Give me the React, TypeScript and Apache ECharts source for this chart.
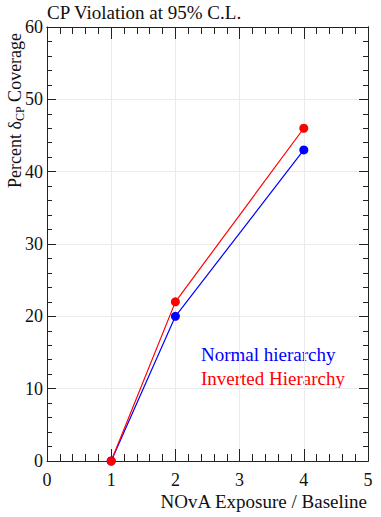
import React, { useEffect, useRef } from "react";
import * as echarts from "echarts";

const exposure = [1, 2, 4];
const normalCoverage = [0, 20, 43];
const invertedCoverage = [0, 22, 46];
const xTicks = [0, 1, 2, 3, 4, 5];
const yTicks = [0, 10, 20, 30, 40, 50, 60];

const FONT = "'Liberation Serif', 'DejaVu Serif', serif";
const GRID = { left: 47, right: 13, top: 27, bottom: 56 };
const AXIS_COLOR = "#222";

const makeX = (pos: "bottom" | "top", labels: boolean) => ({
  type: "value" as const,
  position: pos,
  min: xTicks[0],
  max: xTicks[xTicks.length - 1],
  interval: 1,
  axisLine: { show: true, onZero: false, lineStyle: { color: AXIS_COLOR, width: 1 } },
  axisTick: { show: true, inside: true, length: 12, lineStyle: { color: AXIS_COLOR, width: 1 } },
  minorTick: { show: true, splitNumber: 5, length: 7, lineStyle: { color: AXIS_COLOR, width: 1 } },
  axisLabel: { show: labels, color: "#111", fontFamily: FONT, fontSize: 18, margin: 10 },
  splitLine: { show: labels, lineStyle: { color: "#ebebeb", width: 1 } },
});
const makeY = (pos: "left" | "right", labels: boolean) => ({
  type: "value" as const,
  position: pos,
  min: yTicks[0],
  max: yTicks[yTicks.length - 1],
  interval: 10,
  axisLine: { show: true, onZero: false, lineStyle: { color: AXIS_COLOR, width: 1 } },
  axisTick: { show: true, inside: true, length: 9, lineStyle: { color: AXIS_COLOR, width: 1 } },
  minorTick: { show: true, splitNumber: 5, length: 5, lineStyle: { color: AXIS_COLOR, width: 1 } },
  axisLabel: { show: labels, color: "#111", fontFamily: FONT, fontSize: 18, margin: 4 },
  splitLine: { show: labels, lineStyle: { color: "#ebebeb", width: 1 } },
});

// mirror axes (top / right): ticks only, no minorTick option, empty labels
const mirrorX = (interval: number, len: number) => ({
  type: "value" as const,
  position: "top" as const,
  min: xTicks[0],
  max: xTicks[xTicks.length - 1],
  interval,
  axisLine: { show: true, onZero: false, lineStyle: { color: AXIS_COLOR, width: 1 } },
  axisTick: { show: true, inside: true, length: len, lineStyle: { color: AXIS_COLOR, width: 1 } },
  axisLabel: { show: true, formatter: () => "" },
  splitLine: { show: false },
});
const mirrorY = (interval: number, len: number) => ({
  type: "value" as const,
  position: "right" as const,
  min: yTicks[0],
  max: yTicks[yTicks.length - 1],
  interval,
  axisLine: { show: true, onZero: false, lineStyle: { color: AXIS_COLOR, width: 1 } },
  axisTick: { show: true, inside: true, length: len, lineStyle: { color: AXIS_COLOR, width: 1 } },
  axisLabel: { show: true, formatter: () => "" },
  splitLine: { show: false },
});

export default function App() {
  const ref = useRef<HTMLDivElement>(null);
  const ref2 = useRef<HTMLDivElement>(null);
  const ref3 = useRef<HTMLDivElement>(null);
  useEffect(() => {
    if (!ref.current || !ref2.current || !ref3.current) return;
    const chart = echarts.init(ref.current, null, { renderer: "svg" });
    chart.setOption({
      animation: false,
      grid: GRID,
      xAxis: makeX("bottom", true),
      yAxis: makeY("left", true),
      series: [
        {
          name: "Normal hierarchy",
          type: "line",
          data: exposure.map((x, i) => [x, normalCoverage[i]]),
          symbol: "circle",
          symbolSize: 9,
          itemStyle: { color: "#0000ff" },
          lineStyle: { color: "#0000ff", width: 1.2 },
        },
        {
          name: "Inverted Hierarchy",
          type: "line",
          data: exposure.map((x, i) => [x, invertedCoverage[i]]),
          symbol: "circle",
          symbolSize: 9,
          itemStyle: { color: "#ff0000" },
          lineStyle: { color: "#ff0000", width: 1.2 },
        },
      ],
      graphic: [
        {
          type: "text",
          left: 47,
          top: 3,
          style: { text: "CP Violation at 95% C.L.", fontFamily: FONT, fontSize: 19, fill: "#111" },
        },
        {
          type: "text",
          right: 13,
          top: 492,
          style: { text: "NOvA Exposure / Baseline", fontFamily: FONT, fontSize: 19, fill: "#111" },
        },
        {
          type: "text",
          x: 4,
          y: 188,
          rotation: Math.PI / 2,
          style: {
            text: "{a|Percent δ}{s|CP}{a| Coverage}",
            fill: "#111",
            rich: {
              a: { fontFamily: FONT, fontSize: 18, fill: "#111" },
              s: { fontFamily: FONT, fontSize: 12, fill: "#111", verticalAlign: "bottom", padding: [10, 0, 0, 0] },
            },
          },
        },
        {
          type: "text",
          left: 201,
          top: 345,
          style: { text: "Normal hierarchy", fontFamily: FONT, fontSize: 19, fill: "#0000ff" },
        },
        {
          type: "text",
          left: 201,
          top: 369,
          style: { text: "Inverted Hierarchy", fontFamily: FONT, fontSize: 19, fill: "#ff0000" },
        },
      ],
    });
    const mirrorMajor = echarts.init(ref2.current, null, { renderer: "svg" });
    mirrorMajor.setOption({
      animation: false,
      grid: GRID,
      xAxis: mirrorX(1, 12),
      yAxis: mirrorY(10, 9),
      series: [],
    });
    const mirrorMinor = echarts.init(ref3.current, null, { renderer: "svg" });
    mirrorMinor.setOption({
      animation: false,
      grid: GRID,
      xAxis: mirrorX(0.2, 7),
      yAxis: mirrorY(2, 5),
      series: [],
    });
    return () => {
      chart.dispose();
      mirrorMajor.dispose();
      mirrorMinor.dispose();
    };
  }, []);
  const layer = { width: 381, height: 517, position: "absolute" as const, left: 0, top: 0 };
  return (
    <div style={{ position: "absolute", left: 0, top: 0, width: 381, height: 517 }}>
      <div ref={ref} style={layer} />
      <div ref={ref2} style={{ ...layer, pointerEvents: "none" }} />
      <div ref={ref3} style={{ ...layer, pointerEvents: "none" }} />
    </div>
  );
}
